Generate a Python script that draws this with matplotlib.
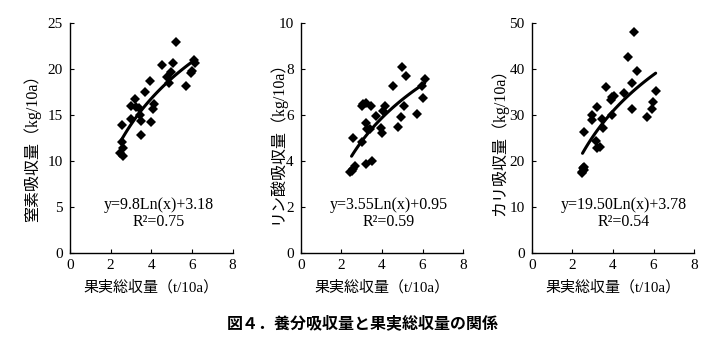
import numpy as np
import matplotlib
matplotlib.use('Agg')
import matplotlib.pyplot as plt

# yield (t/10a) vs nutrient uptake (kg/10a)
n_x = [2.54, 2.54, 2.62, 2.46, 2.62, 2.98, 2.98, 3.20, 3.25, 3.40, 3.44, 3.49, 3.49, 3.69,
       3.93, 3.98, 4.10, 4.15, 4.54, 4.79, 4.87, 4.97, 5.05, 5.20, 5.69, 5.93, 5.98, 6.11, 6.15]
n_y = [13.9, 12.0, 11.4, 10.9, 10.55, 14.6, 16.0, 16.7, 15.9, 15.7, 15.0, 14.3, 12.8, 17.5,
       18.65, 14.2, 15.6, 16.2, 20.4, 19.1, 18.5, 19.7, 20.6, 22.9, 18.1, 19.5, 19.8, 20.9, 20.6]

p_x = [2.56, 2.43, 2.51, 2.59, 2.67, 3.00, 3.00, 3.08, 3.20, 3.21, 3.25, 3.21, 3.49, 3.46, 3.41,
       3.70, 3.93, 3.98, 4.07, 4.15, 4.56, 4.80, 4.93, 4.97, 5.08, 5.18, 5.70, 5.95, 6.00, 6.11]
p_y = [5.0, 3.5, 3.57, 3.63, 3.79, 4.8, 6.37, 6.45, 6.52, 5.66, 5.4, 3.86, 4.0, 6.39, 5.4,
       5.94, 5.43, 5.19, 6.16, 6.39, 7.24, 5.48, 5.91, 8.08, 6.37, 7.69, 6.05, 7.24, 6.75, 7.54]

k_x = [2.55, 2.46, 2.55, 2.50, 2.59, 2.46, 2.99, 2.99, 3.23, 3.17, 3.23, 3.37, 3.46, 3.50, 3.66,
       3.89, 3.97, 4.06, 3.97, 4.52, 4.76, 4.93, 4.93, 5.04, 5.17, 5.66, 5.91, 5.99, 6.11]
k_y = [26.2, 17.5, 18.0, 18.4, 18.6, 17.3, 30.0, 28.9, 31.6, 24.3, 22.7, 23.1, 29.0, 27.1, 36.0,
       33.2, 33.8, 34.1, 30.0, 34.7, 42.5, 37.0, 31.3, 48.0, 39.5, 29.6, 31.2, 32.8, 35.2]

# y = a*ln(x) + b
fits = [(9.8, 3.18), (3.55, 0.95), (19.50, 3.78)]
eq_texts = ['y=9.8Ln(x)+3.18', 'y=3.55Ln(x)+0.95', 'y=19.50Ln(x)+3.78']
r2_texts = ['R²=0.75', 'R²=0.59', 'R²=0.54']
ylabels = ['窒素吸収量（kg/10a）', 'リン酸吸収量（kg/10a）', 'カリ吸収量（kg/10a）']
ymax = [25, 10, 50]
ystep = [5, 2, 10]
xs = [n_x, p_x, k_x]
ys = [n_y, p_y, k_y]

serif = ['Liberation Serif', 'Noto Sans CJK JP']
jp = ['Noto Sans CJK JP', 'DejaVu Sans']

fig = plt.figure(figsize=(7.25, 3.54), dpi=100)
lefts = [0.0966, 0.4148, 0.7334]
eq_x = [0.547, 0.543, 0.569]
lab_x = [-0.178, -0.097, -0.146]
lab_y = [0.47, 0.5, 0.5]

for i in range(3):
    ax = fig.add_axes([lefts[i], 0.2853, 0.2242, 0.6506])
    ax.plot(xs[i], ys[i], 'D', color='black', markersize=5.2, markeredgewidth=0)
    a, b = fits[i]
    fx = np.linspace(2.5, 6.1, 60)
    ax.plot(fx, a*np.log(fx) + b, color='black', lw=2.2, solid_capstyle='round')
    ax.set_xlim(0, 8)
    ax.set_ylim(0, ymax[i])
    ax.set_xticks(range(0, 9, 2))
    ax.set_yticks(np.arange(0, ymax[i] + 0.01, ystep[i]))
    for s in ['top', 'right']:
        ax.spines[s].set_visible(False)
    for s in ['left', 'bottom']:
        ax.spines[s].set_linewidth(1.0)
    ax.tick_params(direction='in', length=3, width=0.8, labelsize=11)
    ax.tick_params(axis='x', pad=4.5)
    ax.tick_params(axis='y', pad=5)
    for lab in ax.get_xticklabels() + ax.get_yticklabels():
        lab.set_family(serif)
    ax.set_ylabel(ylabels[i], family=serif, fontsize=11.5)
    ax.yaxis.set_label_coords(lab_x[i], lab_y[i])
    ax.text(eq_x[i], 0.209, eq_texts[i], transform=ax.transAxes, ha='center', va='center',
            family=serif, fontsize=11.5)
    ax.text(eq_x[i], 0.136, r2_texts[i], transform=ax.transAxes, ha='center', va='center',
            family=serif, fontsize=11.5)
    ax.text(0.5, -0.148, '果実総収量（t/10a）', transform=ax.transAxes, ha='center', va='center',
            family=serif, fontsize=10.8)

fig.text(0.5, 1 - 323/354, '図４．養分吸収量と果実総収量の関係', ha='center', va='center',
         family=jp, fontsize=11.5, fontweight='bold')

fig.savefig('out.png', dpi=100)
